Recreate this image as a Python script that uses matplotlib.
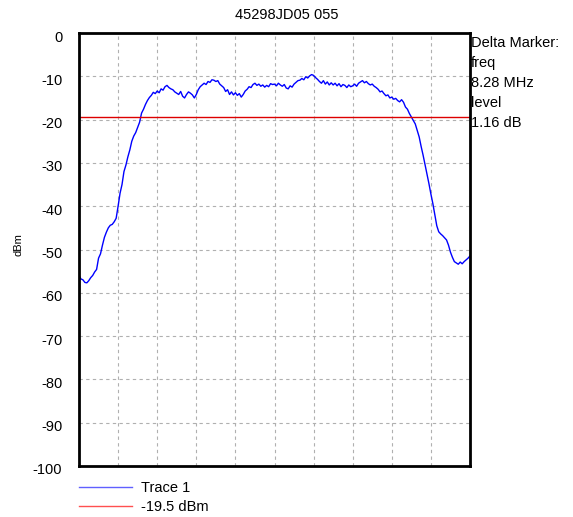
import numpy as np
import matplotlib
matplotlib.use("Agg")
import matplotlib.pyplot as plt
import matplotlib.transforms as mtrans
from matplotlib.lines import Line2D

plt.rcParams['font.family'] = ['Liberation Sans', 'DejaVu Sans']

title = "45298JD05 055"
ref_level = -19.5
marker_text = ["Delta Marker:", "freq", "8.28 MHz", "level", "1.16 dB"]
y_ticks = [0, -10, -20, -30, -40, -50, -60, -70, -80, -90, -100]

# trace 1, one value every 0.05 of a grid division (0..10 divisions)
trace = [
    -56.0, -56.8, -57.0, -57.6, -57.7, -57.2, -56.5, -56.0, -55.2, -54.6,
    -52.0, -51.0, -49.0, -47.2, -46.0, -45.0, -44.4, -44.2, -43.6, -42.8,
    -40.0, -37.0, -35.0, -32.0, -30.5, -28.6, -27.0, -25.0, -23.8, -23.0,
    -21.8, -20.6, -18.5, -17.6, -16.5, -15.6, -14.9, -14.4, -13.7, -14.0,
    -13.4, -13.8, -12.9, -13.2, -12.4, -12.1, -12.6, -12.9, -13.1, -13.6,
    -13.9, -14.2, -13.5, -14.6, -15.0, -14.2, -13.6, -13.9, -14.3, -15.0,
    -14.2, -13.1, -12.4, -12.0, -11.6, -11.9, -11.2, -11.4, -10.8, -10.9,
    -11.2, -11.0, -11.8, -12.2, -12.6, -13.5, -13.1, -14.2, -13.6, -14.3,
    -13.8, -14.4, -14.0, -14.8, -14.2, -13.4, -13.0, -12.4, -12.6, -11.9,
    -11.6, -12.1, -11.8, -12.3, -12.0, -12.5, -12.1, -12.4, -11.7, -11.9,
    -11.8, -12.2, -11.6, -12.0, -12.3, -11.9, -12.7, -12.9, -12.2, -12.5,
    -11.8, -11.4, -11.0, -10.9, -10.5, -10.8, -10.1, -10.4, -9.9, -9.6,
    -9.8, -10.3, -10.7, -11.2, -11.6, -11.0, -11.8, -11.3, -12.0, -11.5,
    -12.0, -11.6, -12.2, -11.7, -12.4, -11.9, -12.1, -12.6, -12.0, -12.4,
    -12.2, -11.8, -12.3, -11.6, -11.3, -11.0, -11.5, -11.2, -11.7, -12.0,
    -11.8, -12.3, -12.6, -13.0, -13.6, -13.4, -14.0, -14.5, -14.3, -15.0,
    -14.8, -15.3, -15.1, -15.6, -15.9, -15.4, -16.0, -17.1, -17.6, -18.6,
    -19.4, -20.2, -21.0, -22.5, -24.0, -26.2, -28.2, -30.4, -32.6, -34.8,
    -37.2, -39.4, -42.0, -44.5, -45.9, -46.4, -46.8, -47.3, -47.8, -49.0,
    -50.6, -51.8, -52.8, -53.1, -53.4, -52.9, -53.3, -52.8, -52.4, -52.0,
    -51.5,
]
x = np.linspace(0, 10, len(trace))

fig = plt.figure(figsize=(5.73, 5.17), dpi=100)
ax = fig.add_axes([79 / 573, 1 - 466 / 517, 391 / 573, 433 / 517])

ax.plot(x, trace, color='#0000ff', lw=1.0)
ax.axhline(ref_level, color='#dd0000', lw=1.0)

ax.set_xlim(0, 10)
ax.set_ylim(-100, 0)
ax.set_xticks(np.arange(1, 10))
ax.set_xticklabels([])
ax.set_yticks(y_ticks)
ax.set_yticklabels([str(v) for v in y_ticks], fontsize=10.5)
ax.tick_params(length=0, pad=12)
# labels sit a few pixels below their grid lines in the original
shift = mtrans.ScaledTranslation(0, -0.03, fig.dpi_scale_trans)
for lbl in ax.get_yticklabels():
    lbl.set_transform(lbl.get_transform() + shift)
ax.grid(True, color='#b0b0b0', ls=(0, (3, 3)), lw=0.8)
for s in ax.spines.values():
    s.set_linewidth(2)
    s.set_color('black')

fig.text(18 / 573, 1 - 245 / 517, "dBm", rotation=90, ha='center', va='center', fontsize=8)
fig.text(0.5, 1 - 15 / 517, title, ha='center', va='center', fontsize=10.5)

for i, t in enumerate(marker_text):
    fig.text(471 / 573, 1 - (43 + 20 * i) / 517, t, ha='left', va='center', fontsize=10.5)

handles = [Line2D([], [], color='#6060ff', lw=1), Line2D([], [], color='#ff5050', lw=1)]
fig.legend(handles, ["Trace 1", "-19.5 dBm"], loc='upper left',
           bbox_to_anchor=(72 / 573, 1 - 474 / 517), frameon=False,
           fontsize=10.5, handlelength=3.6, handletextpad=0.6, labelspacing=0.3,
           borderpad=0)

fig.savefig("out.png", dpi=100)
